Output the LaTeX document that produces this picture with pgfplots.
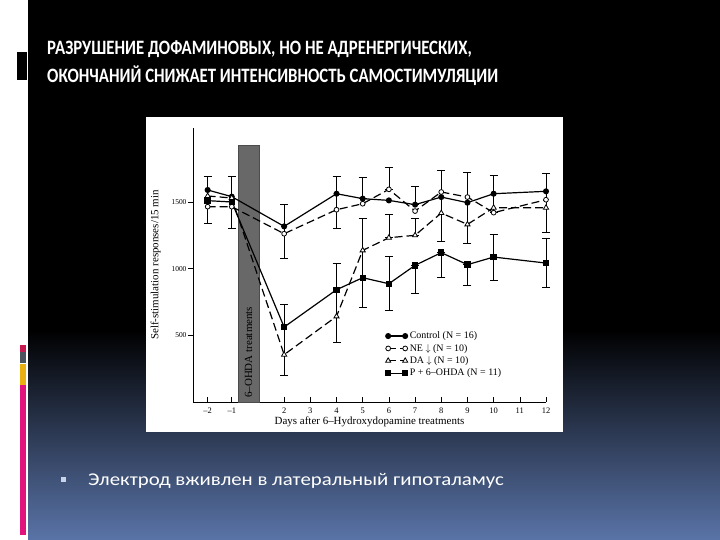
\documentclass[border=0pt]{standalone}
\usepackage{graphicx}
\usepackage{pgfplots}
\pgfplotsset{compat=1.18}
\usepackage{fontspec}
\setmainfont{Liberation Serif}
\newfontfamily\carlito{Carlito}
\definecolor{bandgray}{RGB}{104,104,104}
\definecolor{slideblue}{RGB}{90,116,168}
\definecolor{stripA}{RGB}{200,25,80}
\definecolor{stripB}{RGB}{75,85,96}
\definecolor{stripC}{RGB}{232,176,16}
\definecolor{stripD}{RGB}{224,20,124}
\definecolor{bulletc}{RGB}{200,212,232}

\pgfplotstableread{
x c e
-0.92 1516 179
0 1497 197
2 1277 202
2 468 268
4 1497 197
4 741 296
5 1606 81
5 1043 336
6 1678 83
6 1318 86
6 891 204
7 1550 70
7 1315 65
7 918 106
8 1473 268
8 1028 92
9 1456 264
9 952 78
10 1560 140
10 1083 171
12 1496 221
12 1046 184
}\errtable

\begin{document}
\begin{tikzpicture}[x=1bp,y=1bp]
% slide background
\fill[white] (0,0) rectangle (720,540);
\fill[black] (28,210) rectangle (720,540);
\shade[top color=black, bottom color=slideblue] (28,0) rectangle (720,210.5);
% left decorations
\fill[black] (17,460) rectangle (27,488);
\fill[stripA] (20,188) rectangle (26,195);
\fill[stripB] (20,177) rectangle (26,188);
\fill[stripC] (20,155) rectangle (26,176);
\fill[stripD] (20,5) rectangle (26,155);
% title
\node[anchor=base west, text=white, inner sep=0pt, font=\carlito\bfseries\fontsize{20.5}{24}\selectfont] at (47,485) {\scalebox{0.82}[1]{РАЗРУШЕНИЕ ДОФАМИНОВЫХ, НО НЕ АДРЕНЕРГИЧЕСКИХ,}};
\node[anchor=base west, text=white, inner sep=0pt, font=\carlito\bfseries\fontsize{20.5}{24}\selectfont] at (47,457) {\scalebox{0.82}[1]{ОКОНЧАНИЙ СНИЖАЕТ ИНТЕНСИВНОСТЬ САМОСТИМУЛЯЦИИ}};
% bullet
\fill[bulletc] (61,58) rectangle (66,63);
\node[anchor=base west, text=white, inner sep=0pt, font=\carlito\fontsize{18}{21}\selectfont] at (88,54) {\scalebox{1.16}[1]{Электрод вживлен в латеральный гипоталамус}};
% chart image background
\fill[white] (146,108) rectangle (563,423);

\begin{axis}[
  at={(193bp,138bp)}, anchor=south west,
  scale only axis, width=353bp, height=274bp,
  xmin=-1.48, xmax=12, ymin=0, ymax=2055,
  axis x line*=bottom, axis y line*=left,
  axis line style={line width=0.7bp},
  xtick={-0.92,0,2,3,4,5,6,7,8,9,10,11,12},
  xticklabels={–2,–1,2,3,4,5,6,7,8,9,10,11,12},
  ytick={500,1000,1500}, yticklabels={500,1000,1500},
  tick align=inside, major tick length=5bp,
  tick style={black, line width=0.6bp},
  y tick style={xshift=-5bp},
  x tick label style={font=\fontsize{8.5}{9}\selectfont, yshift=-2bp},
  y tick label style={font=\fontsize{7.5}{9}\selectfont, xshift=-3bp},
  xlabel={Days after 6–Hydroxydopamine treatments},
  ylabel={Self-stimulation responses/15 min},
  label style={font=\fontsize{11}{12}\selectfont},
  xlabel style={yshift=3bp},
  ylabel style={yshift=4bp},
  clip=false,
  legend style={at={(0.545,0.264)}, anchor=north west, draw=none, fill=none,
    font=\fontsize{10}{11}\selectfont, row sep=0bp, inner sep=0pt,
    /tikz/every even column/.append style={column sep=4bp}},
  legend cell align=left,
  legend image code/.code={\draw[#1] plot coordinates {(0bp,0bp) (17bp,0bp)};},
]
\addplot[fill=bandgray, draw=black!70, line width=0.4bp, forget plot] coordinates {(0.23,0) (0.23,1928) (1.06,1928) (1.06,0)} -- cycle;
\node[rotate=90, anchor=west, inner sep=0pt, font=\fontsize{11}{12}\selectfont] at (axis cs:0.645,30) {6–OHDA treatments};

\addplot[only marks, mark=text, text mark={}, forget plot,
  error bars/.cd, y dir=both, y explicit,
  error bar style={black, solid, line width=0.6bp},
  error mark options={rotate=90, black, mark size=4bp, line width=0.6bp}]
  table[x=x, y=c, y error=e] {\errtable};

\addplot[black, line width=1.2bp, mark=*, mark size=2.4bp] coordinates {
(-0.92,1590) (0,1540) (2,1317) (4,1562) (5,1525) (6,1512) (7,1480) (8,1537) (9,1495) (10,1562) (12,1580)};
\addlegendentry{Control (N = 16)}
\addplot[black, line width=1.2bp, dash pattern=on 8bp off 4bp, mark=*, mark size=2.4bp, mark options={solid, fill=white, line width=0.8bp}] coordinates {
(-0.92,1465) (0,1465) (2,1262) (4,1442) (5,1487) (6,1595) (7,1432) (8,1575) (9,1537) (10,1420) (12,1517)};
\addlegendentry{NE $\downarrow$ (N = 10)}
\addplot[black, line width=1.2bp, dash pattern=on 8bp off 4bp, mark=triangle*, mark size=3bp, mark options={solid, fill=white, line width=0.8bp}] coordinates {
(-0.92,1545) (0,1530) (2,355) (4,642) (5,1137) (6,1232) (7,1250) (8,1417) (9,1332) (10,1457) (12,1457)};
\addlegendentry{DA $\downarrow$ (N = 10)}
\addplot[black, line width=1.2bp, mark=square*, mark size=2.6bp] coordinates {
(-0.92,1510) (0,1500) (2,562) (4,842) (5,932) (6,887) (7,1025) (8,1120) (9,1030) (10,1087) (12,1042)};
\addlegendentry{P + 6–OHDA (N = 11)}
\end{axis}
\end{tikzpicture}
\end{document}
